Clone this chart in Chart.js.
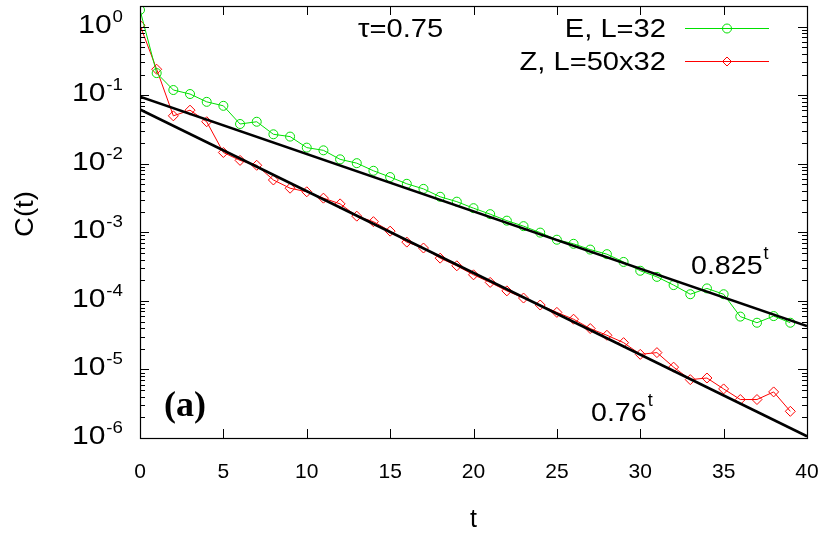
<!DOCTYPE html>
<html>
<head>
<meta charset="utf-8">
<script src="https://cdn.jsdelivr.net/npm/chart.js@4"></script>
<style>
  body { margin: 0; background: #fff; }
  canvas { display: block; }
</style>
</head>
<body>
<canvas id="c" width="830" height="533"></canvas>
<script>
// correlation C(t), t = 0..39
const tVals = [0,1,2,3,4,5,6,7,8,9,10,11,12,13,14,15,16,17,18,19,20,21,22,23,24,25,26,27,28,29,30,31,32,33,34,35,36,37,38,39];
const cE = [1.75,0.21,0.119,0.104,0.080,0.070,0.038,0.041,0.0269,0.0249,0.0172,0.0157,0.0116,0.0102,0.0079,0.0064,0.0051,0.0043,0.0033,0.0028,
  0.00225,0.00184,0.00148,0.00123,0.00099,0.00078,0.00068,0.00056,0.00048,0.00037,0.000275,0.000224,0.000170,0.000125,0.000152,0.000125,5.9e-5,4.8e-5,6.0e-5,4.8e-5];
const cZ = [1.05,0.239,0.050,0.0605,0.041,0.0146,0.0112,0.0095,0.0058,0.0044,0.0039,0.00315,0.0026,0.00172,0.00143,0.00104,0.00072,0.00059,0.00042,0.000325,
  0.00024,0.000186,0.00014,0.00011,8.7e-5,6.8e-5,5.4e-5,3.95e-5,3.15e-5,2.46e-5,1.66e-5,1.76e-5,1.08e-5,7.1e-6,7.5e-6,5.2e-6,3.64e-6,3.64e-6,4.7e-6,2.45e-6];
// fitted exponentials, end points at t=0 and t=40
const fitT = [0, 40];
const fitE = [0.095, 4.3e-5];   // 0.825^t
const fitZ = [0.062, 1.06e-6];  // 0.76^t
const xTicks = [0,5,10,15,20,25,30,35,40];
const yExps = [0,-1,-2,-3,-4,-5,-6];
const labE = 'E, L=32', labZ = 'Z, L=50x32';

const GREEN = '#00e000', RED = '#ff0000';
const FONT = '"Liberation Sans", Arial, sans-serif';
const pts = (xs, ys) => xs.map((x, i) => ({ x, y: ys[i] }));

// draws text, returns its drawn width
function txt(ctx, s, x, y, size, align, sx) {
  sx = sx || 1;
  ctx.save();
  ctx.font = size + 'px ' + FONT;
  ctx.textAlign = align || 'left';
  ctx.textBaseline = 'alphabetic';
  ctx.translate(x, y);
  ctx.scale(sx, 1);
  ctx.fillText(s, 0, 0);
  const w = ctx.measureText(s).width * sx;
  ctx.restore();
  return w;
}

const frame = {
  id: 'frame',
  afterDraw(chart) {
    const { ctx, chartArea: a, scales: { x, y } } = chart;
    ctx.save();
    ctx.strokeStyle = '#000';
    ctx.fillStyle = '#000';
    ctx.lineWidth = 1.2;
    ctx.strokeRect(a.left + 0.5, a.top + 0.5, a.right - a.left, a.bottom - a.top);

    // x ticks (bottom and top, inward)
    ctx.lineWidth = 1;
    ctx.beginPath();
    xTicks.forEach(t => {
      const px = Math.round(x.getPixelForValue(t)) + 0.5;
      ctx.moveTo(px, a.bottom); ctx.lineTo(px, a.bottom - 9);
      ctx.moveTo(px, a.top); ctx.lineTo(px, a.top + 9);
    });
    // y ticks, log minors
    for (let e = -6; e <= 0; e++) {
      for (let m = 1; m <= 9; m++) {
        const v = m * Math.pow(10, e);
        if (v > y.max) break;
        const py = Math.round(y.getPixelForValue(v)) + 0.5;
        const len = m === 1 ? 9 : 5;
        ctx.moveTo(a.left, py); ctx.lineTo(a.left + len, py);
        ctx.moveTo(a.right, py); ctx.lineTo(a.right - len, py);
      }
    }
    ctx.stroke();

    // x tick labels
    xTicks.forEach(t => txt(ctx, String(t), x.getPixelForValue(t), 478, 21, 'center'));
    // y tick labels 10^n
    yExps.forEach(e => {
      const py = y.getPixelForValue(Math.pow(10, e));
      ctx.font = '17px ' + FONT;
      const ew = ctx.measureText(String(e)).width * 1.1;
      txt(ctx, String(e), 123 - ew, py - 5, 17, 'left', 1.1);
      txt(ctx, '10', 123 - ew - 1, py + 6, 25, 'right', 1.2);
    });

    // axis titles
    txt(ctx, 't', (a.left + a.right) / 2, 527, 25, 'center');
    ctx.save();
    ctx.translate(33, 214);
    ctx.rotate(-Math.PI / 2);
    txt(ctx, 'C(t)', 0, 0, 25, 'center', 1.1);
    ctx.restore();

    // legend
    txt(ctx, labE, 666, 37, 26, 'right', 1.12);
    txt(ctx, labZ, 666, 70, 26, 'right', 1.12);
    ctx.lineWidth = 1;
    ctx.strokeStyle = GREEN;
    ctx.beginPath(); ctx.moveTo(685, 28.5); ctx.lineTo(769, 28.5); ctx.stroke();
    ctx.beginPath(); ctx.arc(727, 28.5, 4.5, 0, Math.PI * 2); ctx.stroke();
    ctx.strokeStyle = RED;
    ctx.beginPath(); ctx.moveTo(685, 61.5); ctx.lineTo(769, 61.5); ctx.stroke();
    ctx.beginPath();
    ctx.moveTo(727, 57); ctx.lineTo(731.5, 61.5); ctx.lineTo(727, 66); ctx.lineTo(722.5, 61.5); ctx.closePath();
    ctx.stroke();

    // annotations
    txt(ctx, '\u03c4=0.75', 358, 37, 26, 'left', 1.12);
    let w = txt(ctx, '0.825', 691, 274, 26, 'left', 1.1);
    txt(ctx, 't', 691 + w + 1, 259, 18, 'left');
    w = txt(ctx, '0.76', 591, 421, 26, 'left', 1.1);
    txt(ctx, 't', 591 + w + 1, 406, 18, 'left');
    ctx.font = 'bold 36px "Liberation Serif", "Times New Roman", serif';
    ctx.textAlign = 'left';
    ctx.fillText('(a)', 164, 416);
    ctx.restore();
  }
};

new Chart(document.getElementById('c'), {
  type: 'line',
  data: {
    datasets: [
      { label: 'fitE', data: pts(fitT, fitE), borderColor: '#000', borderWidth: 2.6, pointRadius: 0, order: 0 },
      { label: 'fitZ', data: pts(fitT, fitZ), borderColor: '#000', borderWidth: 2.6, pointRadius: 0, order: 0 },
      { label: labE, data: pts(tVals, cE), borderColor: GREEN, borderWidth: 1,
        pointStyle: 'circle', pointRadius: 4.5, pointBorderColor: GREEN, pointBackgroundColor: 'rgba(0,0,0,0)', pointBorderWidth: 1, order: 1 },
      { label: labZ, data: pts(tVals, cZ), borderColor: RED, borderWidth: 1,
        pointStyle: 'rectRot', pointRadius: 5, pointBorderColor: RED, pointBackgroundColor: 'rgba(0,0,0,0)', pointBorderWidth: 1, order: 2 }
    ]
  },
  options: {
    responsive: false,
    animation: false,
    layout: { padding: { left: 140, right: 23, top: 5, bottom: 95 } },
    plugins: { legend: { display: false }, tooltip: { enabled: false } },
    scales: {
      x: { type: 'linear', min: 0, max: 40, display: false },
      y: { type: 'logarithmic', min: 1e-6, max: 2, display: false }
    }
  },
  plugins: [frame]
});
</script>
</body>
</html>
